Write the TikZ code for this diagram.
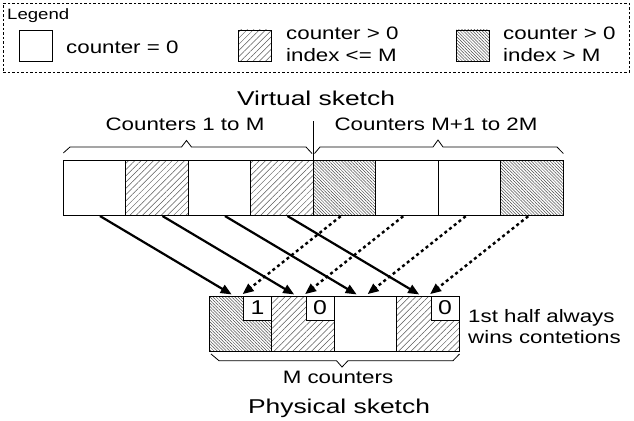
\documentclass[tikz,border=0pt]{standalone}
\usepackage{fontspec}
\setmainfont{Liberation Sans}
\newfontfamily\bodyf[FakeStretch=1.24]{Liberation Sans}
\newfontfamily\titlef[FakeStretch=1.32]{Liberation Sans}
\usetikzlibrary{patterns.meta,arrows.meta}
\tikzset{
 cellbox/.style={draw, line width=0.9pt, minimum width=62.5pt, minimum height=55pt, inner sep=0pt, outer sep=0pt},
 zero/.style={cellbox, fill=white},
 lowhatch/.style={cellbox, pattern={Lines[angle=45,distance=4.4pt,line width=0.5pt]}, pattern color=black!65},
 highhatch/.style={cellbox, pattern={Lines[angle=-45,distance=2.2pt,line width=0.5pt]}, pattern color=black!70},
 legsq/.style={minimum width=33pt, minimum height=31pt},
 lbl/.style={inner sep=0pt, anchor=base, font=\bodyf\fontsize{18}{20}\selectfont},
 lblw/.style={lbl, anchor=base west},
 ttl/.style={inner sep=0pt, anchor=base, font=\titlef\fontsize{20}{22}\selectfont},
 mapsolid/.style={line width=2.2pt, shorten <=2pt, shorten >=3pt, -{Triangle[length=11pt,width=9pt]}},
 mapdot/.style={line width=2.4pt, dash pattern=on 3pt off 3pt, shorten <=2pt, shorten >=3pt, -{Triangle[length=11pt,width=9pt]}},
 bracepath/.style={line width=0.8pt},
 digitbox/.style={draw, fill=white, line width=0.9pt, minimum width=28pt, minimum height=24pt, inner sep=0pt, outer sep=0pt, anchor=north east, font=\bodyf\fontsize{20}{22}\selectfont},
}
\begin{document}
\begin{tikzpicture}[x=1pt,y=-1pt]
\useasboundingbox (0,0) rectangle (634,420);
% legend
\node[draw, dash pattern=on 2.5pt off 2pt, line width=0.7pt, minimum width=626pt, minimum height=69pt, inner sep=0pt, anchor=north west] (legend) at (3,3) {};
\node[inner sep=0pt, anchor=base west, font=\bodyf\fontsize{15}{17}\selectfont] (legtitle) at (7,20) {Legend};
\node[zero, legsq, anchor=north west] (lz) at (19,30) {};
\node[lblw] (lzt) at (66,53) {counter = 0};
\node[lowhatch, legsq, anchor=north west] (ll) at (238,30) {};
\node[lblw] (llt1) at (286,40) {counter > 0};
\node[lblw] (llt2) at (286,62) {index <= M};
\node[highhatch, legsq, anchor=north west] (lh) at (456,30) {};
\node[lblw] (lht1) at (503,40) {counter > 0};
\node[lblw] (lht2) at (503,62) {index > M};
% virtual sketch
\node[ttl] (vtitle) at (316,105.7) {Virtual sketch};
\node[lbl] (vl) at (185,130.7) {Counters 1 to M};
\node[lbl] (vr) at (436,130.7) {Counters M+1 to 2M};
\node[zero] (v1) at (94.25,187.5) {};
\node[lowhatch] (v2) at (156.75,187.5) {};
\node[zero] (v3) at (219.25,187.5) {};
\node[lowhatch] (v4) at (281.75,187.5) {};
\node[highhatch] (v5) at (344.25,187.5) {};
\node[zero] (v6) at (406.75,187.5) {};
\node[zero] (v7) at (469.25,187.5) {};
\node[highhatch] (v8) at (531.75,187.5) {};
\coordinate (septop) at (313,121);
\draw[line width=0.8pt] (v5.north west) -- (septop);
\draw[bracepath] (63.3,153) -- (70,147) -- (181.5,147) -- (186.5,140.5) -- (191.5,147) -- (306,147) -- (312,153.5);
\draw[bracepath] (314.5,153.5) -- (320,147) -- (433,147) -- (438,140) -- (443,147) -- (557,147) -- (563.3,153.5);
% physical sketch
\node[highhatch] (p1) at (240.25,323.5) {};
\node[lowhatch] (p2) at (302.75,323.5) {};
\node[zero] (p3) at (365.25,323.5) {};
\node[lowhatch] (p4) at (427.75,323.5) {};
\node[digitbox] (d1) at (p1.north east) {1};
\node[digitbox] (d2) at (p2.north east) {0};
\node[digitbox] (d4) at (p4.north east) {0};
\draw[bracepath] (211,354) -- (219,360.7) -- (336.5,360.7) -- (342,367) -- (348,360.7) -- (453,360.7) -- (459.5,354);
\node[lbl] (mc) at (338,383) {M counters};
\node[ttl] (ptitle) at (339,413) {Physical sketch};
\node[lblw] (note1) at (468,322) {1st half always};
\node[lblw] (note2) at (468,343) {wins contetions};
% mappings
\foreach \i in {1,...,4} {
  \draw[mapsolid] ([xshift=4pt]v\i.south) -- ([xshift=-6pt]p\i.north);
}
\draw[mapdot] ([xshift=-2pt]v5.south) -- (p1.north);
\draw[mapdot] ([xshift=-2pt]v6.south) -- (p2.north);
\draw[mapdot] ([xshift=-2pt]v7.south) -- (p3.north);
\draw[mapdot] ([xshift=-2pt]v8.south) -- (p4.north);
\end{tikzpicture}
\end{document}
